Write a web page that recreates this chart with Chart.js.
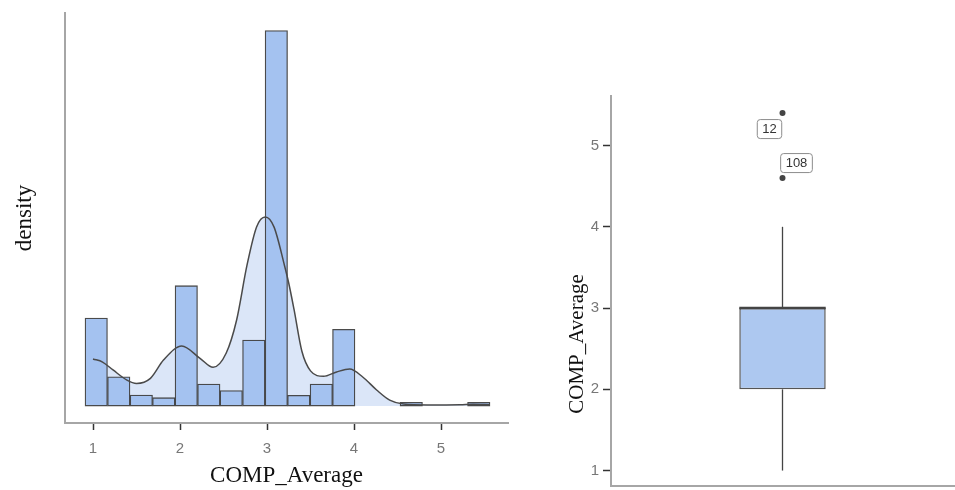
<!DOCTYPE html>
<html>
<head>
<meta charset="utf-8">
<script src="https://cdn.jsdelivr.net/npm/chart.js@4.4.1/dist/chart.umd.min.js"></script>
<style>
  html, body { margin: 0; padding: 0; background: #fff; }
  #wrap { position: relative; width: 955px; height: 490px; overflow: hidden; }
  #hist { position: absolute; left: 0; top: 0; }
  #box { position: absolute; left: 540px; top: 0; }
</style>
</head>
<body>
<div id="wrap">
  <canvas id="hist" width="520" height="490"></canvas>
  <canvas id="box" width="418" height="490"></canvas>
</div>
<script>
// histogram of COMP_Average: bin centres and density heights
const binCenters = [1.037, 1.296, 1.555, 1.813, 2.072, 2.331, 2.589, 2.848, 3.107,
  3.365, 3.624, 3.882, 4.141, 4.400, 4.658, 4.917, 5.176, 5.434];
const binDensity = [0.400, 0.133, 0.050, 0.038, 0.547, 0.100, 0.070, 0.300, 1.706,
  0.049, 0.100, 0.349, 0, 0, 0.017, 0, 0, 0.017];

// kernel density curve
const densityX = [1.00, 1.11, 1.23, 1.39, 1.50, 1.66, 1.81, 2.02, 2.23, 2.38, 2.53, 2.65,
  2.77, 2.88, 2.98, 3.08, 3.20, 3.25, 3.31, 3.40, 3.50, 3.65, 3.80, 3.95, 4.10, 4.26, 4.41,
  4.57, 4.84, 5.22, 5.37, 5.56];
const densityY = [0.214, 0.200, 0.164, 0.118, 0.103, 0.126, 0.209, 0.273, 0.217, 0.176,
  0.240, 0.390, 0.640, 0.814, 0.859, 0.814, 0.640, 0.558, 0.440, 0.250, 0.160, 0.135,
  0.155, 0.168, 0.132, 0.073, 0.027, 0.009, 0.005, 0.006, 0.008, 0.006];

const histTicks = [1, 2, 3, 4, 5];

// box plot of COMP_Average
const boxWhiskers = [1, 4];
const boxQuartiles = [2, 3];
const boxMedian = 3;
const outlierValues = [5.4, 4.6];
const outlierIds = ['12', '108'];
const boxTicks = [1, 2, 3, 4, 5];

const SANS = '"Liberation Sans", Arial, sans-serif';
const SERIF = '"Liberation Serif", "Times New Roman", serif';
const BAR_BLUE = '#a4c2f0';
const AXIS_GREY = '#a6a6a6';

const histPoints = binCenters.map((x, i) => ({ x, y: binDensity[i] }));
const densityPoints = densityX.map((x, i) => ({ x, y: densityY[i] }));

new Chart(document.getElementById('hist'), {
  type: 'bar',
  data: {
    datasets: [
      {
        type: 'line',
        data: densityPoints,
        fill: 'origin',
        backgroundColor: '#dbe6f8',
        borderWidth: 0,
        pointRadius: 0,
        cubicInterpolationMode: 'monotone',
        order: 3,
      },
      {
        type: 'bar',
        data: histPoints,
        backgroundColor: BAR_BLUE,
        borderColor: 'rgba(55,55,55,0.9)',
        borderWidth: 1.3,
        borderSkipped: false,
        barPercentage: 1,
        categoryPercentage: 1,
        order: 2,
      },
      {
        type: 'line',
        data: densityPoints,
        fill: false,
        borderColor: '#4a4a4a',
        borderWidth: 1.5,
        pointRadius: 0,
        cubicInterpolationMode: 'monotone',
        order: 1,
      },
    ],
  },
  options: {
    responsive: false,
    animation: false,
    layout: { padding: { top: 13, right: 12, left: 0, bottom: 0 } },
    plugins: { legend: { display: false }, tooltip: { enabled: false } },
    scales: {
      x: {
        type: 'linear',
        min: 0.678,
        max: 5.77,
        offset: false,
        afterBuildTicks: (scale) => { scale.ticks = histTicks.map(value => ({ value })); },
        afterFit: (scale) => { scale.height = 67; },
        ticks: { color: '#777', font: { family: SANS, size: 15 }, padding: 10, maxRotation: 0 },
        grid: { offset: false, drawOnChartArea: false, tickLength: 7, tickColor: '#333', tickWidth: 1.5 },
        border: { display: true, color: AXIS_GREY, width: 2 },
        title: {
          display: true, text: 'COMP_Average', color: '#111',
          font: { family: SERIF, size: 23 }, padding: { top: 0, bottom: 0 },
        },
      },
      y: {
        min: -0.077,
        max: 1.786,
        afterFit: (scale) => { scale.width = 65; },
        ticks: { display: false },
        grid: { display: false },
        border: { display: true, color: AXIS_GREY, width: 2 },
        title: {
          display: true, text: 'density', color: '#111',
          font: { family: SERIF, size: 23 }, padding: { top: 11, bottom: 0 },
        },
      },
    },
  },
});

// ggrepel-like id labels beside the outliers
const labelNudge = [[-13, 16], [14, -15]];
const outlierLabels = {
  id: 'outlierLabels',
  afterDatasetsDraw(chart) {
    const meta = chart.getDatasetMeta(4);
    const { ctx } = chart;
    ctx.save();
    ctx.font = `13px ${SANS}`;
    ctx.textAlign = 'center';
    ctx.textBaseline = 'middle';
    meta.data.forEach((pt, i) => {
      const [dx, dy] = labelNudge[i];
      const text = outlierIds[i];
      const w = ctx.measureText(text).width + 10;
      const h = 19;
      const cx = pt.x + dx;
      const cy = pt.y + dy;
      ctx.beginPath();
      ctx.roundRect(cx - w / 2, cy - h / 2, w, h, 3);
      ctx.fillStyle = '#fff';
      ctx.fill();
      ctx.strokeStyle = '#8c8c8c';
      ctx.lineWidth = 1;
      ctx.stroke();
      ctx.fillStyle = '#333';
      ctx.fillText(text, cx, cy + 0.5);
    });
    ctx.restore();
  },
};

// the y title of the box plot sits below the middle of the axis in the original
const boxYTitle = {
  id: 'boxYTitle',
  afterDraw(chart) {
    const { ctx } = chart;
    ctx.save();
    ctx.translate(37, 344);
    ctx.rotate(-Math.PI / 2);
    ctx.font = `21px ${SERIF}`;
    ctx.fillStyle = '#111';
    ctx.textAlign = 'center';
    ctx.textBaseline = 'middle';
    ctx.fillText('COMP_Average', 0, 0);
    ctx.restore();
  },
};

const boxX = 0.5;
const boxWidth = 0.252; // share of the x axis

new Chart(document.getElementById('box'), {
  type: 'bar',
  data: {
    datasets: [
      {
        type: 'line',
        data: [{ x: boxX, y: boxWhiskers[0] }, { x: boxX, y: boxQuartiles[0] }],
        borderColor: '#444', borderWidth: 1.3, pointRadius: 0, order: 4,
      },
      {
        type: 'line',
        data: [{ x: boxX, y: boxQuartiles[1] }, { x: boxX, y: boxWhiskers[1] }],
        borderColor: '#444', borderWidth: 1.3, pointRadius: 0, order: 4,
      },
      {
        type: 'bar',
        data: [{ x: boxX, y: boxQuartiles }],
        backgroundColor: '#adc8f0',
        borderColor: '#555',
        borderWidth: 1.5,
        borderSkipped: false,
        barPercentage: boxWidth,
        categoryPercentage: 1,
        order: 2,
      },
      {
        type: 'line',
        data: [{ x: boxX - boxWidth / 2, y: boxMedian }, { x: boxX + boxWidth / 2, y: boxMedian }],
        borderColor: '#444', borderWidth: 2.6, pointRadius: 0, order: 1,
      },
      {
        type: 'line',
        data: outlierValues.map(y => ({ x: boxX, y })),
        showLine: false,
        pointRadius: 3,
        pointBorderWidth: 0,
        pointBackgroundColor: '#444',
        order: 0,
      },
    ],
  },
  options: {
    responsive: false,
    animation: false,
    layout: { padding: { top: 96, right: 0, left: 0, bottom: 0 } },
    plugins: { legend: { display: false }, tooltip: { enabled: false } },
    scales: {
      x: {
        type: 'linear',
        min: 0,
        max: 1,
        offset: false,
        afterBuildTicks: (scale) => { scale.ticks = []; },
        afterFit: (scale) => { scale.height = 1; scale.paddingLeft = 0; scale.paddingRight = 0; },
        ticks: { display: false },
        grid: { display: false, offset: false },
        border: { display: true, color: AXIS_GREY, width: 2 },
      },
      y: {
        min: 0.81,
        max: 5.61,
        afterBuildTicks: (scale) => { scale.ticks = boxTicks.map(value => ({ value })); },
        afterFit: (scale) => { scale.width = 71; scale.paddingTop = 0; scale.paddingBottom = 0; },
        ticks: { color: '#777', font: { family: SANS, size: 15 }, padding: 4 },
        grid: { drawOnChartArea: false, tickLength: 8, tickColor: '#333', tickWidth: 1.5 },
        border: { display: true, color: AXIS_GREY, width: 2 },
      },
    },
  },
  plugins: [outlierLabels, boxYTitle],
});
</script>
</body>
</html>
